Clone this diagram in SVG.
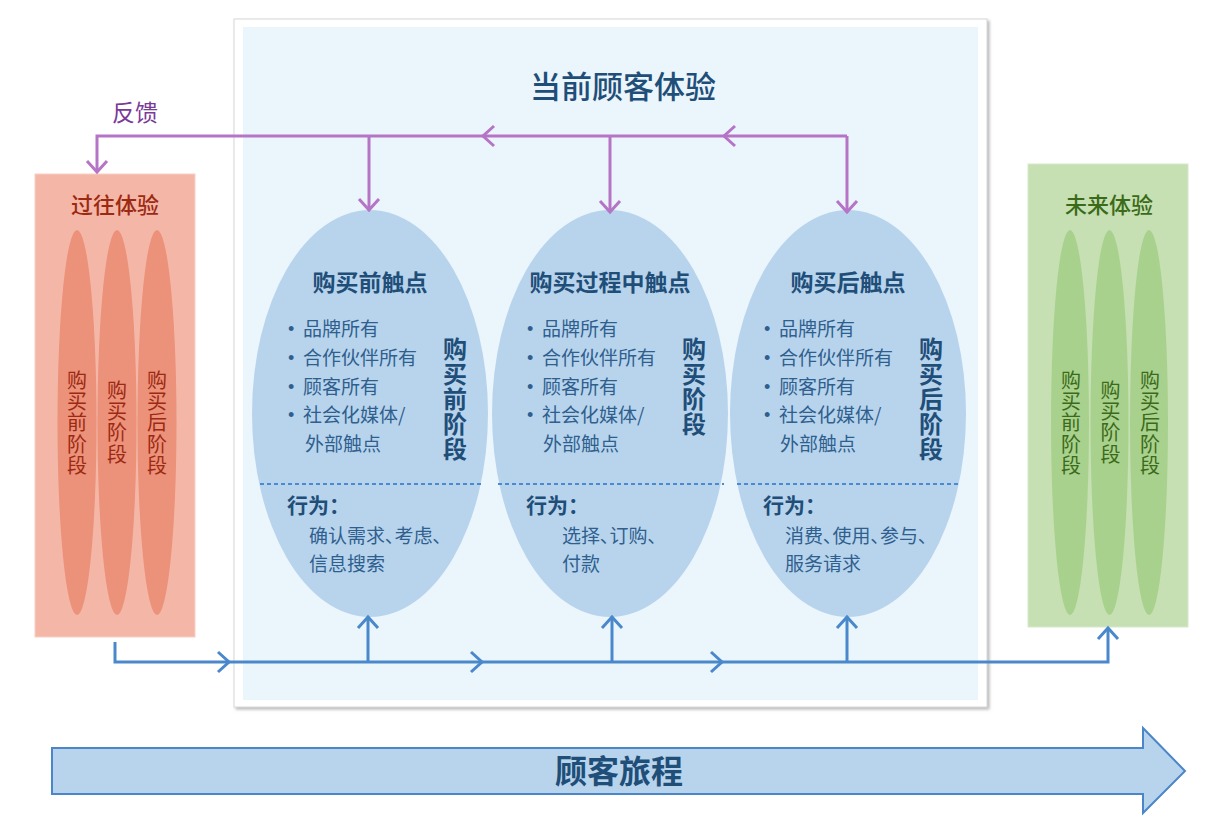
<svg xmlns="http://www.w3.org/2000/svg" width="1224" height="826" viewBox="0 0 1224 826">
<defs>
<style>
text{font-family:"Noto Sans CJK SC","Microsoft YaHei",sans-serif;}
.ttl{font-size:31px;font-weight:500;fill:#1f4e79;}
.fb{font-size:23px;fill:#7a3a98;}
.et{font-size:23px;font-weight:bold;fill:#1f4e79;text-anchor:middle;}
.bl{font-size:19px;fill:#2f5f8f;}
.dot{font-family:"Liberation Sans",sans-serif;font-size:18px;fill:#2f5f8f;}
.beh{font-size:21px;font-weight:bold;fill:#1f4e79;}
.bt{font-size:19px;fill:#2f5f8f;font-feature-settings:"palt";}
.vt{font-size:24px;font-weight:bold;fill:#1f4e79;writing-mode:vertical-rl;letter-spacing:1px;}
.pt{font-size:22px;font-weight:500;fill:#9c2a12;text-anchor:middle;}
.pv{font-size:20px;fill:#9c2a12;writing-mode:vertical-rl;letter-spacing:1.4px;}
.gt{font-size:22px;font-weight:500;fill:#3b6b18;text-anchor:middle;}
.gv{font-size:20px;fill:#3b6b18;writing-mode:vertical-rl;letter-spacing:1.4px;}
.ell{fill:#b8d4ec;}
.dash{stroke:#4a8ad0;stroke-width:2;stroke-dasharray:4 3;fill:none;}
.pl{stroke:#b574c5;stroke-width:3;fill:none;}
.bln{stroke:#4a88cc;stroke-width:3;fill:none;}
</style>
<marker id="pch" viewBox="-15 -15 30 30" refX="0" refY="0" markerWidth="30" markerHeight="30" markerUnits="userSpaceOnUse" orient="auto">
<path d="M-11,-10 L0,0 L-11,10" fill="none" stroke="#b574c5" stroke-width="3"/>
</marker>
<marker id="bch" viewBox="-15 -15 30 30" refX="0" refY="0" markerWidth="30" markerHeight="30" markerUnits="userSpaceOnUse" orient="auto">
<path d="M-11,-10 L0,0 L-11,10" fill="none" stroke="#4a88cc" stroke-width="3"/>
</marker>
<filter id="sh" x="-5%" y="-5%" width="110%" height="110%">
<feDropShadow dx="2" dy="2" stdDeviation="1.5" flood-color="#888" flood-opacity="0.6"/>
</filter>
</defs>

<g id="container">
<rect x="234" y="19" width="753" height="688" fill="#ffffff" stroke="#d8d8d8" stroke-width="1" filter="url(#sh)"/>
<rect x="243" y="27" width="735" height="673" fill="#ebf5fc"/>
<text class="ttl" x="623" y="98" text-anchor="middle">当前顾客体验</text>
</g>

<g id="journey-arrow">
<path d="M52,748 L1143,748 L1143,728 L1185,771 L1143,813 L1143,794 L52,794 Z" fill="#b8d4ec" stroke="#4a86c8" stroke-width="2"/>
<text x="619" y="783" text-anchor="middle" style="font-size:32px;font-weight:bold;fill:#1f4e79;">顾客旅程</text>
</g>

<g id="past">
<rect x="35" y="174" width="160" height="463" fill="#f4b7a7" stroke="#f8cfc4" stroke-width="1"/>
<text class="pt" x="115" y="213">过往体验</text>
<ellipse cx="77" cy="422.5" rx="19.5" ry="192.5" fill="#ec917a"/>
<ellipse cx="117" cy="422.5" rx="19.5" ry="192.5" fill="#ec917a"/>
<ellipse cx="157" cy="422.5" rx="19.5" ry="192.5" fill="#ec917a"/>
<text class="pv" x="77" y="370">购买前阶段</text>
<text class="pv" x="117" y="380">购买阶段</text>
<text class="pv" x="157" y="370">购买后阶段</text>
</g>

<g id="future">
<rect x="1028" y="164" width="160" height="463" fill="#c6e0b4" stroke="#d6e9c9" stroke-width="1"/>
<text class="gt" x="1109" y="213">未来体验</text>
<ellipse cx="1070" cy="422.5" rx="19" ry="192.5" fill="#a9d18e"/>
<ellipse cx="1109.5" cy="422.5" rx="19" ry="192.5" fill="#a9d18e"/>
<ellipse cx="1149" cy="422.5" rx="19" ry="192.5" fill="#a9d18e"/>
<text class="gv" x="1071" y="370">购买前阶段</text>
<text class="gv" x="1110.5" y="380">购买阶段</text>
<text class="gv" x="1150" y="370">购买后阶段</text>
</g>

<g id="pre-purchase">
<ellipse class="ell" cx="370" cy="413.5" rx="118" ry="203.5"/>
<line class="dash" x1="260" y1="484" x2="482" y2="484"/>
<text class="et" x="370" y="291">购买前触点</text>
<text class="dot" x="288" y="335">•</text><text class="bl" x="303" y="336">品牌所有</text>
<text class="dot" x="288" y="364">•</text><text class="bl" x="303" y="365">合作伙伴所有</text>
<text class="dot" x="288" y="393">•</text><text class="bl" x="303" y="394">顾客所有</text>
<text class="dot" x="288" y="421">•</text><text class="bl" x="303" y="422">社会化媒体/</text>
<text class="bl" x="305" y="451">外部触点</text>
<text class="vt" x="455" y="337">购买前阶段</text>
<text class="beh" x="287" y="513">行为：</text>
<text class="bt" x="309" y="543">确认需求、考虑、</text>
<text class="bt" x="309" y="571">信息搜索</text>
</g>

<g id="purchase">
<ellipse class="ell" cx="610" cy="413.5" rx="118" ry="203.5"/>
<line class="dash" x1="498" y1="484" x2="724" y2="484"/>
<text class="et" x="610" y="291">购买过程中触点</text>
<text class="dot" x="527" y="335">•</text><text class="bl" x="542" y="336">品牌所有</text>
<text class="dot" x="527" y="364">•</text><text class="bl" x="542" y="365">合作伙伴所有</text>
<text class="dot" x="527" y="393">•</text><text class="bl" x="542" y="394">顾客所有</text>
<text class="dot" x="527" y="421">•</text><text class="bl" x="542" y="422">社会化媒体/</text>
<text class="bl" x="543" y="451">外部触点</text>
<text class="vt" x="694" y="337">购买阶段</text>
<text class="beh" x="526" y="513">行为：</text>
<text class="bt" x="562" y="543">选择、订购、</text>
<text class="bt" x="562" y="571">付款</text>
</g>

<g id="post-purchase">
<ellipse class="ell" cx="848" cy="413.5" rx="118" ry="203.5"/>
<line class="dash" x1="737" y1="484" x2="960" y2="484"/>
<text class="et" x="848" y="291">购买后触点</text>
<text class="dot" x="764" y="335">•</text><text class="bl" x="779" y="336">品牌所有</text>
<text class="dot" x="764" y="364">•</text><text class="bl" x="779" y="365">合作伙伴所有</text>
<text class="dot" x="764" y="393">•</text><text class="bl" x="779" y="394">顾客所有</text>
<text class="dot" x="764" y="421">•</text><text class="bl" x="779" y="422">社会化媒体/</text>
<text class="bl" x="780" y="451">外部触点</text>
<text class="vt" x="931" y="337">购买后阶段</text>
<text class="beh" x="763" y="513">行为：</text>
<text class="bt" x="785" y="543">消费、使用、参与、</text>
<text class="bt" x="785" y="571">服务请求</text>
</g>

<g id="connectors">
<text class="fb" x="112" y="121">反馈</text>
<path class="pl" d="M847,136 L724,136" marker-end="url(#pch)"/>
<path class="pl" d="M724,136 L483,136" marker-end="url(#pch)"/>
<path class="pl" d="M483,136 L97,136 L97,172" marker-end="url(#pch)"/>
<path class="pl" d="M369,136 L369,210" marker-end="url(#pch)"/>
<path class="pl" d="M610,136 L610,212" marker-end="url(#pch)"/>
<path class="pl" d="M847,136 L847,212" marker-end="url(#pch)"/>
<path class="bln" d="M115,642 L115,662 L229,662" marker-end="url(#bch)"/>
<path class="bln" d="M229,662 L482,662" marker-end="url(#bch)"/>
<path class="bln" d="M482,662 L722,662" marker-end="url(#bch)"/>
<path class="bln" d="M722,662 L1108,662 L1108,628" marker-end="url(#bch)"/>
<path class="bln" d="M368,662 L368,617" marker-end="url(#bch)"/>
<path class="bln" d="M612,662 L612,617" marker-end="url(#bch)"/>
<path class="bln" d="M847,662 L847,617" marker-end="url(#bch)"/>
</g>
</svg>
